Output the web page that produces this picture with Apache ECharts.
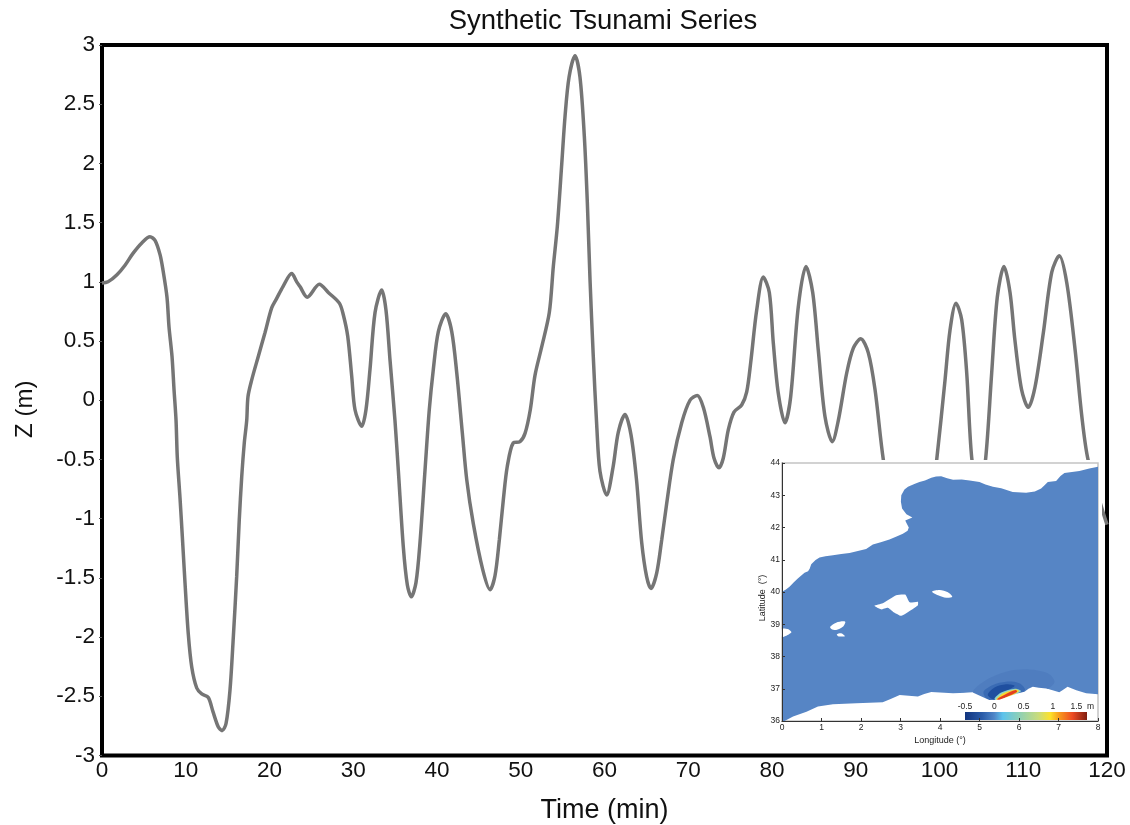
<!DOCTYPE html>
<html>
<head>
<meta charset="utf-8">
<title>Synthetic Tsunami Series</title>
<script src="https://cdn.jsdelivr.net/npm/echarts@6/dist/echarts.min.js"></script>
<style>
  html, body { margin: 0; padding: 0; background: #fff; }
  #chart { width: 1130px; height: 825px; }
</style>
</head>
<body>
<div id="chart"></div>
<script>
// tide gauge series (parts behind the inset are estimates)
const timeMin = [0, 0.72, 1.79, 2.75, 3.7, 4.78, 5.73, 6.33, 6.93, 7.28, 7.76, 8, 8.36, 8.6, 8.84, 8.99, 9.31, 9.59, 9.91, 10.3, 10.71, 11.31, 11.91, 12.69, 13.25, 13.89, 14.33, 14.81, 15.28, 15.68, 16.08, 16.39, 16.68, 16.99, 17.28, 17.43, 17.87, 18.66, 19.46, 20.26, 20.86, 21.61, 22.65, 23.25, 23.64, 24.51, 25.95, 27.02, 28.34, 28.82, 29.34, 29.82, 30.21, 31.01, 31.52, 32, 32.6, 33.4, 33.91, 34.39, 34.98, 35.38, 35.98, 36.46, 36.93, 37.49, 37.97, 38.57, 39.08, 39.56, 40.16, 41.04, 41.76, 42.36, 43.03, 43.55, 44.33, 45.46, 46.33, 46.93, 47.44, 47.92, 48.39, 49.11, 49.91, 50.51, 51.14, 51.7, 52.5, 53.41, 53.89, 54.37, 54.9, 55.29, 55.77, 56.48, 57.07, 57.59, 57.95, 58.27, 58.66, 59.07, 59.46, 60.26, 61.01, 61.65, 62.45, 63.16, 63.82, 64.44, 65.03, 65.55, 66.23, 66.83, 67.43, 68.21, 69.22, 70.21, 71.08, 71.8, 72.6, 73.08, 73.67, 74.18, 74.78, 75.46, 76.38, 76.98, 77.46, 78.17, 78.96, 79.68, 80.16, 80.75, 81.55, 82.23, 83.14, 84.06, 84.86, 85.53, 86.33, 87.2, 87.92, 88.92, 89.71, 90.59, 91.5, 92.3, 93.29, 95.3, 97.1, 98.6, 99.67, 100.66, 101.25, 101.97, 102.65, 103.25, 103.84, 104.7, 105.5, 106.23, 106.9, 107.7, 108.42, 109, 109.8, 110.6, 111.4, 112.4, 113.4, 114.3, 115.2, 116.2, 117, 117.73, 119.5, 120]
const zMetres = [0.99, 1, 1.06, 1.14, 1.24, 1.33, 1.38, 1.35, 1.23, 1.1, 0.87, 0.62, 0.37, 0.09, -0.17, -0.48, -0.82, -1.15, -1.54, -1.97, -2.25, -2.43, -2.48, -2.51, -2.63, -2.76, -2.79, -2.73, -2.45, -2, -1.49, -1.01, -0.65, -0.36, -0.17, 0.03, 0.17, 0.37, 0.57, 0.78, 0.86, 0.96, 1.07, 1, 0.96, 0.87, 0.98, 0.91, 0.82, 0.72, 0.54, 0.2, -0.08, -0.22, -0.08, 0.26, 0.74, 0.93, 0.76, 0.34, -0.17, -0.59, -1.24, -1.56, -1.66, -1.54, -1.2, -0.59, -0.08, 0.26, 0.58, 0.73, 0.58, 0.23, -0.28, -0.67, -1.04, -1.43, -1.6, -1.48, -1.18, -0.84, -0.56, -0.36, -0.35, -0.28, -0.08, 0.21, 0.45, 0.74, 1.13, 1.47, 2, 2.4, 2.73, 2.91, 2.73, 2.23, 1.67, 1.02, 0.37, -0.21, -0.6, -0.8, -0.57, -0.27, -0.12, -0.29, -0.67, -1.2, -1.49, -1.59, -1.46, -1.18, -0.87, -0.5, -0.19, 0, 0.04, -0.06, -0.31, -0.49, -0.57, -0.49, -0.25, -0.1, -0.04, 0.07, 0.32, 0.76, 1.04, 0.91, 0.48, 0.06, -0.19, 0.03, 0.79, 1.13, 0.91, 0.42, -0.14, -0.35, -0.17, 0.23, 0.44, 0.52, 0.4, 0.09, -0.5, -1.35, -1.6, -1.1, -0.5, 0.17, 0.59, 0.82, 0.68, 0.23, -0.48, -0.84, -0.5, 0.23, 0.87, 1.13, 0.91, 0.51, 0.09, -0.06, 0.11, 0.57, 1.08, 1.22, 0.99, 0.42, -0.14, -0.5, -0.94, -1.05]

// inset map outlines as [longitude, latitude]
const seaOutline = [[0, 40.01], [0.1, 40.08], [0.19, 40.16], [0.3, 40.3], [0.4, 40.42], [0.57, 40.6], [0.66, 40.64], [0.7, 40.72], [0.74, 40.86], [0.85, 40.99], [0.95, 41.07], [1.1, 41.11], [1.29, 41.14], [1.5, 41.18], [1.71, 41.21], [2.13, 41.33], [2.3, 41.47], [2.5, 41.54], [2.72, 41.63], [2.9, 41.72], [3.06, 41.81], [3.18, 41.9], [3.21, 42], [3.16, 42.12], [3.12, 42.22], [3.3, 42.31], [3.15, 42.41], [3.04, 42.59], [3.01, 42.8], [3.02, 43], [3.1, 43.18], [3.19, 43.26], [3.35, 43.35], [3.48, 43.41], [3.62, 43.46], [3.78, 43.54], [3.9, 43.58], [4.03, 43.59], [4.18, 43.53], [4.33, 43.48], [4.55, 43.49], [4.75, 43.46], [5, 43.41], [5.15, 43.33], [5.34, 43.26], [5.55, 43.22], [5.84, 43.1], [6.18, 43.08], [6.4, 43.12], [6.56, 43.21], [6.64, 43.3], [6.73, 43.41], [6.94, 43.44], [7.05, 43.6], [7.15, 43.69], [7.53, 43.75], [7.78, 43.83], [8, 43.88], [8, 36.83], [7.7, 36.86], [7.45, 36.95], [7.23, 37.06], [7.1, 36.95], [7.02, 36.89], [6.85, 36.95], [6.69, 37.01], [6.5, 37.03], [6.35, 37.06], [6.24, 37], [6.14, 36.91], [5.95, 36.85], [5.5, 36.66], [5.25, 36.65], [5.05, 36.76], [4.83, 36.88], [4.33, 36.86], [3.78, 36.9], [3.6, 36.84], [3.44, 36.76], [2.98, 36.81], [2.75, 36.68], [2.55, 36.58], [1.88, 36.55], [1.29, 36.52], [0.91, 36.45], [0.62, 36.29], [0.28, 36.14], [0.03, 35.98], [0, 36]]
const capeNao = [[0, 38.86], [0.15, 38.85], [0.24, 38.75], [0.11, 38.64], [0, 38.6]]
const mallorca = [[2.34, 39.57], [2.55, 39.65], [2.89, 39.9], [3.12, 39.92], [3.23, 39.68], [3.44, 39.7], [3.44, 39.59], [3.27, 39.44], [3.02, 39.26], [2.81, 39.39], [2.68, 39.51], [2.51, 39.46]]
const menorca = [[3.8, 40.01], [3.99, 40.06], [4.2, 39.99], [4.31, 39.85], [4.16, 39.82], [3.95, 39.9]]
const ibiza = [[1.22, 38.92], [1.37, 39.05], [1.6, 39.08], [1.54, 38.92], [1.37, 38.82], [1.25, 38.85]]
const formentera = [[1.39, 38.69], [1.5, 38.72], [1.59, 38.63], [1.42, 38.63]]

// tsunami source contours, outermost first
const waveOuter = [[4.83, 36.88], [5.17, 37.27], [5.67, 37.53], [6.26, 37.6], [6.73, 37.48], [6.9, 37.22], [6.72, 37], [6.35, 36.9], [5.67, 36.6], [5.25, 36.55]]
const waveMiddle = [[5.1, 36.9], [5.34, 37.12], [5.67, 37.22], [6.01, 37.17], [6.15, 36.95], [5.67, 36.6], [5.25, 36.6]]
const waveTrough = [[5.21, 36.81], [5.38, 37.04], [5.67, 37.14], [5.89, 37.09], [5.67, 36.91], [5.42, 36.65]]
const waveHalo = [[5.38, 36.68], [5.55, 36.88], [5.9, 37], [6.05, 36.93], [5.9, 36.82], [5.55, 36.62]]
const waveYellow = [[5.42, 36.66], [5.6, 36.86], [5.93, 36.98], [6, 36.92], [5.67, 36.7], [5.48, 36.62]]
const waveRed = [[5.45, 36.68], [5.67, 36.84], [5.92, 36.96], [5.95, 36.9], [5.67, 36.74], [5.5, 36.63]]
// shore below the source, laid over the contours to trim them
const sourceShore = [[6.9, 36.9], [6.69, 37.01], [6.5, 37.03], [6.35, 37.06], [6.24, 37], [6.14, 36.91], [5.95, 36.85], [5.5, 36.66], [5.25, 36.65], [5.05, 36.76], [4.83, 36.88], [4.6, 36.87], [4.6, 36.2], [6.9, 36.2]]

const colorbarRange = [-0.5, 1.58]
const colorbarTicks = [-0.5, 0, 0.5, 1, 1.5]

const SEA = '#5685c5'
const FONT = '"Liberation Sans", Arial, sans-serif'

const mapShapes = [
  { points: seaOutline, fill: SEA },
  { points: capeNao, fill: '#fff', smooth: 0.2 },
  { points: mallorca, fill: '#fff', smooth: 0.15 },
  { points: menorca, fill: '#fff', smooth: 0.3 },
  { points: ibiza, fill: '#fff', smooth: 0.3 },
  { points: formentera, fill: '#fff', smooth: 0.3 },
  { points: waveOuter, fill: '#4f7dbf', smooth: 0.3 },
  { points: waveMiddle, fill: '#3a6bb4', smooth: 0.3 },
  { points: waveTrough, fill: '#1f4f9f', smooth: 0.3 },
  { points: waveHalo, fill: '#8fd3c8', smooth: 0.3 },
  { points: waveYellow, fill: '#fbd92b', smooth: 0.3 },
  { points: waveRed, fill: '#e2401f', smooth: 0.3 },
  { points: sourceShore, fill: '#fff' }
]

const chart = echarts.init(document.getElementById('chart'))

chart.setOption({
  animation: false,
  backgroundColor: '#fff',
  title: {
    text: 'Synthetic Tsunami Series',
    left: 598,
    top: 2,
    textAlign: 'center',
    textStyle: { fontFamily: FONT, fontSize: 27.5, fontWeight: 'normal', color: '#111' }
  },
  grid: [
    { left: 102, right: 23, top: 45, bottom: 69.5, show: true, borderColor: '#000', borderWidth: 4, backgroundColor: '#fff', outerBoundsMode: 'none' },
    { left: 782, right: 32, top: 463, height: 258, show: true, borderColor: '#c4c4c4', borderWidth: 1.5, z: 6, outerBoundsMode: 'none' },
    { left: 965, top: 712, width: 122, height: 8, outerBoundsMode: 'none' }
  ],
  xAxis: [
    {
      type: 'value', gridIndex: 0, min: 0, max: 120, interval: 10,
      name: 'Time (min)', nameLocation: 'middle', nameGap: 42,
      nameTextStyle: { fontFamily: FONT, fontSize: 27, color: '#111' },
      axisLine: { show: false }, axisTick: { show: false }, splitLine: { show: false },
      axisLabel: { fontFamily: FONT, fontSize: 22.5, color: '#111', margin: 4, showMinLabel: true, showMaxLabel: true, hideOverlap: false }
    },
    {
      type: 'value', gridIndex: 1, min: 0, max: 8, interval: 1, z: 9,
      name: 'Longitude (°)', nameLocation: 'middle', nameGap: 15,
      nameTextStyle: { fontFamily: FONT, fontSize: 9, color: '#222' },
      axisLine: { lineStyle: { color: '#333', width: 1 } },
      axisTick: { inside: true, length: 3, lineStyle: { color: '#333' } },
      splitLine: { show: false },
      axisLabel: { fontFamily: FONT, fontSize: 8.5, color: '#222', margin: 2 }
    },
    {
      type: 'value', gridIndex: 2, min: colorbarRange[0], max: colorbarRange[1], interval: 0.5, position: 'top', z: 9,
      axisLine: { show: false }, axisTick: { show: false }, splitLine: { show: false },
      axisLabel: {
        fontFamily: FONT, fontSize: 8.5, color: '#222', margin: 1,
        customValues: colorbarTicks,
        formatter: v => (v === 1.5 ? '1.5  m' : String(v))
      }
    }
  ],
  yAxis: [
    {
      type: 'value', gridIndex: 0, min: -3, max: 3, interval: 0.5,
      name: 'Z (m)', nameLocation: 'middle', nameGap: 65,
      nameTextStyle: { fontFamily: FONT, fontSize: 24, color: '#111', padding: [0, 18, 0, 0] },
      axisLine: { show: false },
      axisTick: { show: true, length: 3, lineStyle: { color: '#555', width: 1 } },
      splitLine: { show: false },
      axisLabel: { fontFamily: FONT, fontSize: 22.5, color: '#111', margin: 7, padding: [6, 0, 0, 0] }
    },
    {
      type: 'value', gridIndex: 1, min: 36, max: 44, interval: 1, z: 9,
      name: 'Latitude  (°)', nameLocation: 'middle', nameGap: 15,
      nameTextStyle: { fontFamily: FONT, fontSize: 9, color: '#222', padding: [0, 12, 0, 0] },
      axisLine: { lineStyle: { color: '#333', width: 1 } },
      axisTick: { inside: true, length: 3, lineStyle: { color: '#333' } },
      splitLine: { show: false },
      axisLabel: { fontFamily: FONT, fontSize: 8.5, color: '#222', margin: 2 }
    },
    { type: 'value', gridIndex: 2, min: 0, max: 1, show: false }
  ],
  graphic: [
    // white plate of the inset, it hides the curve underneath
    { type: 'rect', z: 5, silent: true, shape: { x: 744, y: 460, width: 358, height: 292 }, style: { fill: '#fff' } }
  ],
  series: [
    {
      type: 'line',
      xAxisIndex: 0,
      yAxisIndex: 0,
      z: 2,
      data: timeMin.map((t, i) => [t, zMetres[i]]),
      showSymbol: false,
      smooth: 0.3,
      lineStyle: { color: '#757575', width: 3.5 }
    },
    {
      type: 'custom',
      xAxisIndex: 1,
      yAxisIndex: 1,
      z: 7,
      silent: true,
      data: mapShapes.map((s, i) => [i]),
      renderItem(params, api) {
        const shape = mapShapes[api.value(0)]
        return {
          type: 'polygon',
          shape: { points: shape.points.map(p => api.coord(p)), smooth: shape.smooth || 0 },
          style: { fill: shape.fill }
        }
      }
    },
    {
      type: 'custom',
      xAxisIndex: 2,
      yAxisIndex: 2,
      z: 8,
      silent: true,
      data: [[colorbarRange[0], colorbarRange[1]]],
      renderItem(params, api) {
        const from = api.coord([api.value(0), 0])
        const to = api.coord([api.value(1), 1])
        return {
          type: 'rect',
          shape: { x: from[0], y: to[1], width: to[0] - from[0], height: from[1] - to[1] },
          style: {
            fill: new echarts.graphic.LinearGradient(0, 0, 1, 0, [
              { offset: 0, color: '#12357f' },
              { offset: 0.14, color: '#2a5ba8' },
              { offset: 0.24, color: '#4f86c8' },
              { offset: 0.31, color: '#5cc3ec' },
              { offset: 0.45, color: '#8fd0b4' },
              { offset: 0.6, color: '#c8dc7c' },
              { offset: 0.7, color: '#fde12a' },
              { offset: 0.78, color: '#f7941d' },
              { offset: 0.88, color: '#ee4b23' },
              { offset: 1, color: '#7f1d10' }
            ])
          }
        }
      }
    }
  ]
})
</script>
</body>
</html>
